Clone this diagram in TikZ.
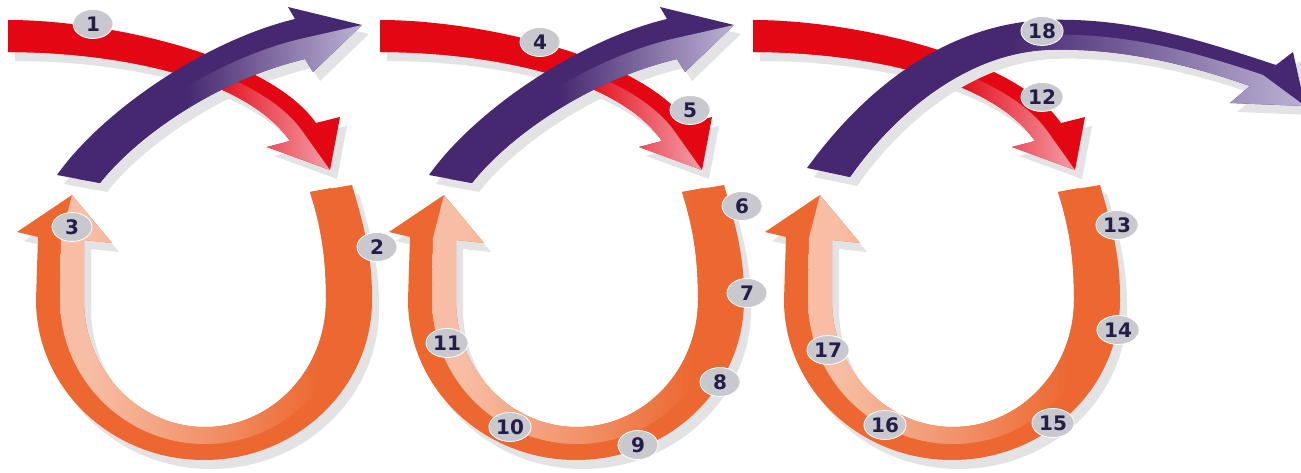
\documentclass[tikz,border=0pt]{standalone}
\usepackage{fontspec}
\newfontfamily\badgefont{DejaVu Sans}
\usetikzlibrary{shapes.geometric}

\definecolor{redA}{RGB}{227,6,19}
\definecolor{redL}{RGB}{243,158,168}
\definecolor{purA}{RGB}{70,40,112}
\definecolor{purL}{RGB}{188,178,212}
\definecolor{orA}{RGB}{236,104,48}
\definecolor{orL}{RGB}{247,190,165}
\definecolor{shadowgray}{RGB}{227,227,230}
\definecolor{badgegray}{RGB}{200,200,206}
\definecolor{badgeink}{RGB}{38,28,72}

\pgfdeclarehorizontalshading{redfade}{100bp}{color(0bp)=(redA); color(56bp)=(redA); color(75bp)=(redL); color(100bp)=(redL)}
\pgfdeclarehorizontalshading{purfade}{100bp}{color(0bp)=(purA); color(44bp)=(purA); color(75bp)=(purL); color(100bp)=(purL)}
\pgfdeclarehorizontalshading{orfade}{100bp}{color(0bp)=(orL); color(30bp)=(orL); color(70bp)=(orA); color(100bp)=(orA)}

% outlines of one turn, in pixels (y downwards)
\def\redfull{(8,20) .. controls (110,20) and (270,57) .. (316,123) -- (340,117) -- (330,170) -- (267,147) -- (290,141) .. controls (244,75) and (110,52) .. (8,52) -- cycle}
\def\redlight{(8,36) .. controls (110,36) and (257,66) .. (303,132) -- (330,170) -- (267,147) -- (290,141) .. controls (244,75) and (110,52) .. (8,52) -- cycle}
\def\purfull{(57,175) .. controls (103,110) and (207,40) .. (295,19) -- (288,7) -- (362,25) -- (313,72) -- (305,59) .. controls (217,80) and (137,136) .. (100,183) -- cycle}
\def\purlight{(78,179) .. controls (120,123) and (212,60) .. (300,39) -- (362,25) -- (313,72) -- (305,59) .. controls (217,80) and (137,136) .. (100,183) -- cycle}
\def\loopfull{(352,185) .. controls (370,245) and (372,270) .. (372,300) .. controls (372,388) and (297,460) .. (204,460) .. controls (111,460) and (36,388) .. (36,300) -- (38,237) -- (17,232) -- (72,195) -- (112,243) -- (84,240) -- (84,300) .. controls (84,370) and (138,427) .. (205,427) .. controls (272,427) and (326,370) .. (326,300) .. controls (326,260) and (322,230) .. (310,192) -- cycle}
\def\looplight{(331,188) .. controls (346,238) and (349,265) .. (349,300) .. controls (349,379) and (285,444) .. (205,444) .. controls (125,444) and (60,379) .. (60,300) -- (61,238) -- (72,195) -- (112,243) -- (84,240) -- (84,300) .. controls (84,370) and (138,427) .. (205,427) .. controls (272,427) and (326,370) .. (326,300) .. controls (326,260) and (322,230) .. (310,192) -- cycle}
% the long last arrow
\def\longfull{(807,168) .. controls (860,95) and (940,25) .. (1045,20) .. controls (1130,17) and (1200,40) .. (1276,65) -- (1293,52) -- (1305,106) -- (1230,103) -- (1250,86) .. controls (1190,65) and (1120,47) .. (1045,50) .. controls (960,55) and (890,120) .. (850,177) -- cycle}
\def\longlight{(828,172) .. controls (875,108) and (950,40) .. (1045,35) .. controls (1125,32) and (1195,52) .. (1263,75) -- (1305,106) -- (1230,103) -- (1250,86) .. controls (1190,65) and (1120,47) .. (1045,50) .. controls (960,55) and (890,120) .. (850,177) -- cycle}

\begin{document}
\begin{tikzpicture}[x=1pt,y=-1pt,
  badge/.style={ellipse, fill=badgegray, draw=white, line width=0.8pt,
    inner xsep=1pt, inner ysep=0pt, minimum width=40pt, minimum height=29pt,
    text=badgeink, font=\badgefont\bfseries\fontsize{20}{20}\selectfont},
  arrowshadow/.style={fill=shadowgray, shift={(7,9)}}]
  \useasboundingbox (0,0) rectangle (1301,473);

  % first turn
  \begin{scope}
    \fill[arrowshadow] \redfull;
    \fill[arrowshadow] \purfull;
    \fill[arrowshadow] \loopfull;
    \fill[redA] \redfull;
    \shade[shading=redfade] \redlight;
    \fill[purA] \purfull;
    \shade[shading=purfade] \purlight;
    \fill[orA] \loopfull;
    \shade[shading=orfade] \looplight;
  \end{scope}

  % second turn
  \begin{scope}[shift={(372,0)}]
    \fill[arrowshadow] \redfull;
    \fill[arrowshadow] \purfull;
    \fill[arrowshadow] \loopfull;
    \fill[redA] \redfull;
    \shade[shading=redfade] \redlight;
    \fill[purA] \purfull;
    \shade[shading=purfade] \purlight;
    \fill[orA] \loopfull;
    \shade[shading=orfade] \looplight;
  \end{scope}

  % third turn
  \begin{scope}[shift={(745,0)}]
    \fill[arrowshadow] \redfull;
    \fill[redA] \redfull;
    \shade[shading=redfade] \redlight;
  \end{scope}
  \begin{scope}[shift={(748,0)}]
    \fill[arrowshadow] \loopfull;
    \fill[orA] \loopfull;
    \shade[shading=orfade] \looplight;
  \end{scope}
  \fill[arrowshadow] \longfull;
  \fill[purA] \longfull;
  \shade[shading=purfade] \longlight;

  \node[badge] (n1) at (93,24) {1};
  \node[badge] (n2) at (377,247) {2};
  \node[badge] (n3) at (72,227) {3};
  \node[badge] (n4) at (540,42) {4};
  \node[badge] (n5) at (690,110) {5};
  \node[badge] (n6) at (742,206) {6};
  \node[badge] (n7) at (747,293) {7};
  \node[badge] (n8) at (720,382) {8};
  \node[badge] (n9) at (638,445) {9};
  \node[badge] (n10) at (510,427) {10};
  \node[badge] (n11) at (447,343) {11};
  \node[badge] (n12) at (1042,97) {12};
  \node[badge] (n13) at (1117,225) {13};
  \node[badge] (n14) at (1118,330) {14};
  \node[badge] (n15) at (1053,423) {15};
  \node[badge] (n16) at (885,425) {16};
  \node[badge] (n17) at (828,350) {17};
  \node[badge] (n18) at (1042,31) {18};
\end{tikzpicture}
\end{document}
